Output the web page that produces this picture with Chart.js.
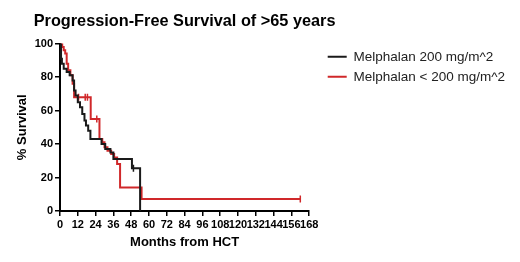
<!DOCTYPE html>
<html>
<head>
<meta charset="utf-8">
<script src="https://cdn.jsdelivr.net/npm/chart.js@4"></script>
<style>
  html, body { margin: 0; padding: 0; background: #fff; }
  #wrap { width: 520px; height: 262px; }
</style>
</head>
<body>
<div id="wrap"><canvas id="c" width="520" height="262"></canvas></div>
<script>
// ---- Data ----
const seriesNames = ['Melphalan 200 mg/m^2', 'Melphalan < 200 mg/m^2'];

// Kaplan-Meier steps: month of event, survival (%) after the event
const blackMonths = [0, 0.7, 1.3, 2.5, 4.5, 6.5, 8.5, 9.5, 10.5, 12, 13.5, 15, 16.5, 17.5, 19, 20.5, 28, 30.5, 34, 36, 48.5, 54];
const blackSurv   = [100, 91, 88, 85, 83, 81, 78, 72, 69, 65, 62, 58, 54, 51, 48, 43, 40, 37, 35, 31, 25.5, 0];

const redMonths = [0, 1.5, 2.5, 3.5, 4.5, 5.5, 7, 8.5, 9.5, 20.7, 26.6, 28.5, 30, 32, 34.5, 36.5, 38.5, 40.5, 55, 162];
const redSurv   = [100, 98, 96, 94, 88, 84, 81, 76, 68, 55, 43, 41, 38, 36, 34, 32, 28, 14, 7.2, 7.2];

// Censored observations (tick marks)
const blackCensorMonths = [49.5];
const blackCensorSurv   = [25.5];
const redCensorMonths = [12.5, 17, 18.5, 24.8, 162];
const redCensorSurv   = [68, 68, 68, 55, 7.2];

const xTickStep = 12, xMax = 168;
const yTickStep = 20, yMax = 100;

const titleText = 'Progression-Free Survival of >65 years';
const xTitle = 'Months from HCT';
const yTitle = '% Survival';

// ---- Build ----
const toXY = (xs, ys) => xs.map((x, i) => ({x: x, y: ys[i]}));
const BLACK = '#1a1a1a';
const RED = '#d0282a';
const FONT = "'Liberation Sans', Arial, sans-serif";

const layoutTweaks = {
  id: 'layoutTweaks',
  afterLayout(chart) {
    const l = chart.legend;
    if (l) { l.left += 12; l.right += 12; }
    const t = chart.titleBlock;
    if (t) { t.left -= 60; t.right += 60; }
  }
};

new Chart(document.getElementById('c'), {
  type: 'line',
  data: {
    datasets: [
      { label: seriesNames[0], data: toXY(blackMonths, blackSurv), borderColor: BLACK, backgroundColor: BLACK,
        borderWidth: 2, stepped: true, pointRadius: 0, fill: false },
      { label: seriesNames[1], data: toXY(redMonths, redSurv), borderColor: RED, backgroundColor: RED,
        borderWidth: 2, stepped: true, pointRadius: 0, fill: false },
      { type: 'scatter', label: 'c1', data: toXY(blackCensorMonths, blackCensorSurv), showLine: false,
        pointStyle: 'line', rotation: 90, pointRadius: 3.5, borderColor: BLACK, borderWidth: 1.5 },
      { type: 'scatter', label: 'c2', data: toXY(redCensorMonths, redCensorSurv), showLine: false,
        pointStyle: 'line', rotation: 90, pointRadius: 3.5, borderColor: RED, borderWidth: 1.5 }
    ]
  },
  options: {
    responsive: false,
    animation: false,
    layout: { padding: { left: 10, right: 17, top: 0, bottom: 0 } },
    plugins: {
      title: {
        display: true, text: titleText, fullSize: false, color: '#000',
        font: { family: FONT, size: 16.3, weight: 'bold' },
        padding: { top: 12, bottom: 12 }
      },
      legend: {
        display: true, position: 'right', align: 'start', fullSize: false, maxWidth: 230,
        labels: {
          color: '#222', font: { family: FONT, size: 13.5 },
          boxWidth: 19, boxHeight: 2, padding: 6.5,
          filter: (item) => item.datasetIndex < 2,
          generateLabels: (chart) => chart.data.datasets.slice(0, 2).map((ds, i) => ({
            text: ds.label, fillStyle: ds.borderColor, strokeStyle: ds.borderColor,
            lineWidth: 0, fontColor: '#222', hidden: false, datasetIndex: i
          }))
        }
      },
      tooltip: { enabled: false }
    },
    scales: {
      x: {
        type: 'linear', min: 0, max: xMax,
        ticks: { stepSize: xTickStep, color: '#000', font: { family: FONT, size: 11, weight: 'bold' }, padding: 2, maxRotation: 0, autoSkip: false },
        grid: { display: true, drawOnChartArea: false, drawTicks: true, tickLength: 5, color: '#000', lineWidth: 1.5 },
        border: { display: true, color: '#000', width: 2 },
        title: { display: true, text: xTitle, color: '#000', font: { family: FONT, size: 13, weight: 'bold' }, padding: { top: 4, bottom: 12 } },
        afterFit: (s) => { s.height = 51; }
      },
      y: {
        type: 'linear', min: 0, max: yMax,
        ticks: { stepSize: yTickStep, color: '#000', font: { family: FONT, size: 11, weight: 'bold' }, padding: 2 },
        grid: { display: true, drawOnChartArea: false, drawTicks: true, tickLength: 5, color: '#000', lineWidth: 1.5 },
        border: { display: true, color: '#000', width: 2 },
        title: { display: true, text: yTitle, color: '#000', font: { family: FONT, size: 13, weight: 'bold' }, padding: { top: 5, bottom: 0 } },
        afterFit: (s) => { s.width = 50; }
      }
    }
  },
  plugins: [layoutTweaks]
});
</script>
</body>
</html>
